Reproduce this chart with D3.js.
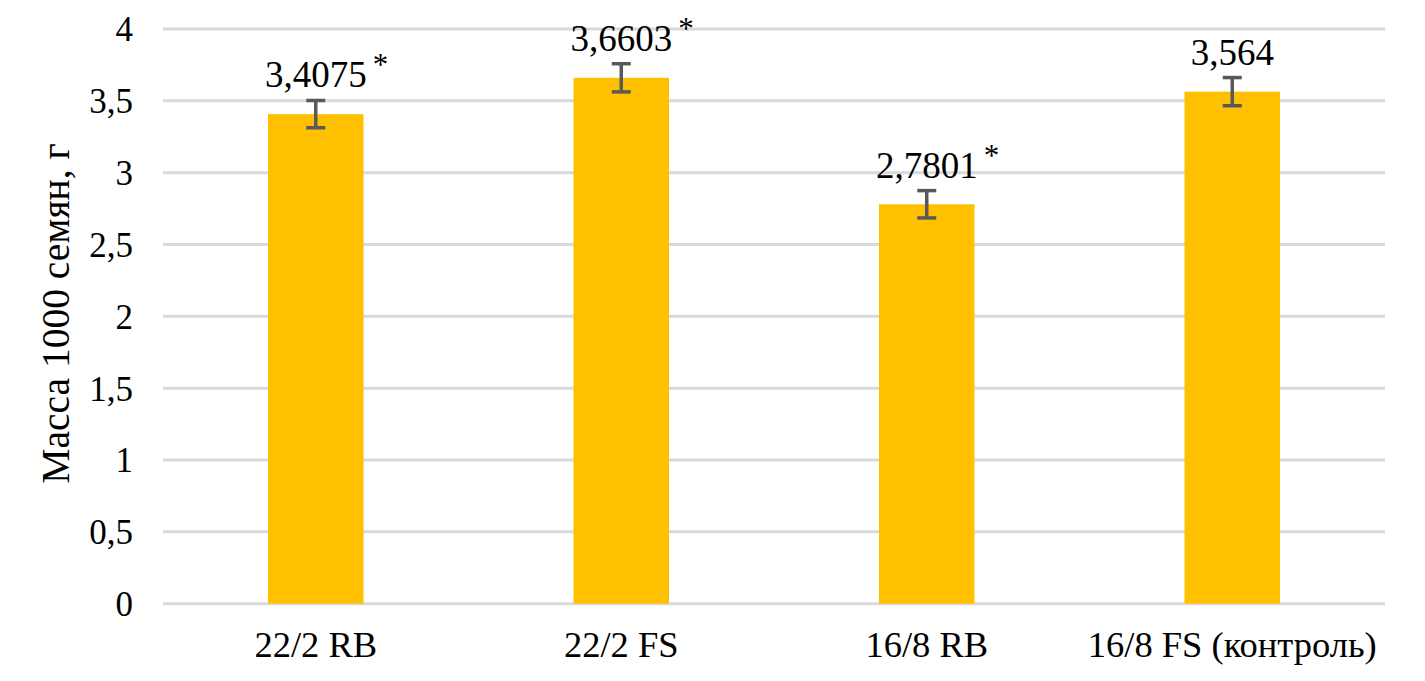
<!DOCTYPE html>
<html>
<head>
<meta charset="utf-8">
<script src="https://cdn.jsdelivr.net/npm/d3@7"></script>
<style>
  html, body { margin: 0; padding: 0; background: #fff; }
  svg { display: block; }
  text { font-family: "Liberation Serif", "Times New Roman", serif; fill: #000; }
</style>
</head>
<body>
<svg id="chart" width="1425" height="681"></svg>
<script>
// ---- data ----
const categories = ["22/2 RB", "22/2 FS", "16/8 RB", "16/8 FS (контроль)"];
const values = [3.4075, 3.6603, 2.7801, 3.564];
const valueLabels = ["3,4075", "3,6603", "2,7801", "3,564"];
const errors = [0.095, 0.098, 0.095, 0.098];
const significant = [true, true, true, false];
const yTicks = [0, 0.5, 1, 1.5, 2, 2.5, 3, 3.5, 4];
const yTickLabels = ["0", "0,5", "1", "1,5", "2", "2,5", "3", "3,5", "4"];
const yTitle = "Масса 1000 семян, г";

(function () {
// ---- layout ----
const svg = d3.select("#chart");
const mLeft = 163, mRight = 1385, mTop = 29, mBottom = 603.7;
const serif = '"Liberation Serif", "Times New Roman", serif';

const x = d3.scaleBand().domain(categories).range([mLeft, mRight])
  .paddingInner(0.6874).paddingOuter(0.3437);
const y = d3.scaleLinear().domain([0, 4]).range([mBottom, mTop]);

// gridlines
svg.append("g").selectAll("line").data(yTicks).join("line")
  .attr("x1", mLeft).attr("x2", mRight)
  .attr("y1", d => y(d)).attr("y2", d => y(d))
  .attr("stroke", "#d9d9d9").attr("stroke-width", 3);

// y axis tick labels
const yAxis = d3.axisLeft(y).tickValues(yTicks)
  .tickFormat((d, i) => yTickLabels[i]).tickSize(0).tickPadding(0);
const gy = svg.append("g").attr("transform", `translate(${133},0)`).call(yAxis);
gy.attr("font-family", serif);
gy.select(".domain").remove();
gy.selectAll("text").attr("font-size", 35).attr("dy", "0.34em")
  .style("font-family", serif).attr("fill", "#000");

// x axis labels
const xAxis = d3.axisBottom(x).tickSize(0).tickPadding(0);
const gx = svg.append("g").attr("transform", `translate(0,${mBottom})`).call(xAxis);
gx.attr("font-family", serif);
gx.select(".domain").remove();
gx.selectAll("text").attr("font-size", 36.5).attr("dy", 0).attr("y", 53)
  .style("font-family", serif).attr("fill", "#000");

// bars
const data = categories.map((c, i) => ({c, v: values[i], e: errors[i], lab: valueLabels[i], sig: significant[i]}));
svg.append("g").selectAll("rect").data(data).join("rect")
  .attr("x", d => x(d.c)).attr("width", x.bandwidth())
  .attr("y", d => y(d.v)).attr("height", d => y(0) - y(d.v))
  .attr("fill", "#FFC000");

// error bars
const eg = svg.append("g").attr("stroke", "#595959").attr("stroke-width", 3.5);
const cx = d => x(d.c) + x.bandwidth() / 2;
eg.selectAll("line.v").data(data).join("line").attr("class", "v")
  .attr("x1", cx).attr("x2", cx)
  .attr("y1", d => y(d.v + d.e)).attr("y2", d => y(d.v - d.e));
eg.selectAll("line.t").data(data).join("line").attr("class", "t")
  .attr("x1", d => cx(d) - 9.5).attr("x2", d => cx(d) + 9.5)
  .attr("y1", d => y(d.v + d.e)).attr("y2", d => y(d.v + d.e));
eg.selectAll("line.b").data(data).join("line").attr("class", "b")
  .attr("x1", d => cx(d) - 9.5).attr("x2", d => cx(d) + 9.5)
  .attr("y1", d => y(d.v - d.e)).attr("y2", d => y(d.v - d.e));

// value labels
const lg = svg.append("g");
data.forEach(d => {
  const t = lg.append("text").attr("x", cx(d)).attr("y", y(d.v + d.e) - 13)
    .attr("text-anchor", "middle").attr("font-size", 37).text(d.lab);
  if (d.sig) {
    const w = t.node().getComputedTextLength();
    lg.append("text").attr("x", cx(d) + w / 2 + 6).attr("y", y(d.v + d.e) - 25)
      .attr("font-size", 31).text("*");
  }
});

// y title
svg.append("text")
  .attr("transform", `translate(69,${313.5}) rotate(-90)`)
  .attr("text-anchor", "middle").attr("font-size", 39.5).text(yTitle);
})();
</script>
</body>
</html>
